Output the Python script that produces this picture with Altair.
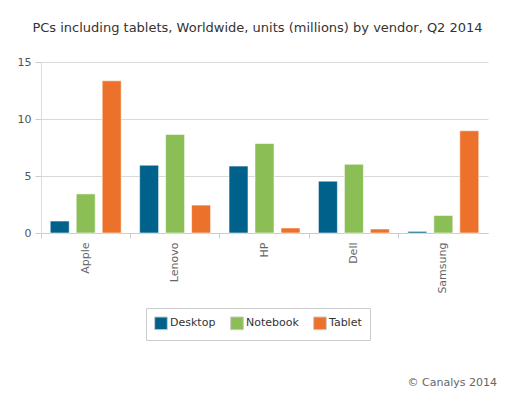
import altair as alt
import pandas as pd

vendors = ["Apple", "Lenovo", "HP", "Dell", "Samsung"]
types = ["Desktop", "Notebook", "Tablet"]
desktop = [1.05, 5.95, 5.87, 4.55, 0.14]
notebook = [3.43, 8.65, 7.85, 6.03, 1.54]
tablet = [13.35, 2.45, 0.44, 0.35, 8.97]
colors = ["#00628b", "#8bbe55", "#ec712a"]

rows = []
for i, v in enumerate(vendors):
    for t, vals in zip(types, [desktop, notebook, tablet]):
        rows.append({"vendor": v, "type": t, "units": vals[i]})
df = pd.DataFrame(rows)

FONT = "DejaVu Sans"

bars = alt.Chart(df).mark_bar(stroke="#ffffff", strokeOpacity=0.55, strokeWidth=1).encode(
    x=alt.X("vendor:N", sort=vendors, title=None,
            scale=alt.Scale(paddingInner=0, paddingOuter=0),
            axis=alt.Axis(labelAngle=-90, bandPosition=0, tickSize=5, labelPadding=4,
                          domainColor="#cccccc", tickColor="#cccccc", grid=False,
                          labelColor="#666666", labelFontSize=11, labelFont=FONT)),
    xOffset=alt.XOffset("type:N", sort=types,
                        scale=alt.Scale(paddingInner=0.27, paddingOuter=0.355)),
    y=alt.Y("units:Q", title=None,
            scale=alt.Scale(domain=[0, 15], nice=False),
            axis=alt.Axis(values=[0, 5, 10, 15], tickSize=6, labelPadding=4,
                          domainColor="#dddddd", tickColor="#cccccc",
                          gridColor="#d9d9d9", labelColor="#555555",
                          labelFontSize=11, labelFont=FONT)),
    color=alt.Color("type:N", sort=types,
                    scale=alt.Scale(domain=types, range=colors),
                    legend=alt.Legend(title=None, orient="none", legendX=105, legendY=246,
                                      direction="horizontal", strokeColor="#cccccc",
                                      padding=8, symbolType="square", symbolSize=160,
                                      symbolStrokeColor="#c8c8c8", symbolStrokeWidth=1,
                                      labelFontSize=11, labelColor="#333333", labelFont=FONT,
                                      labelOffset=2, columnPadding=12)),
)

credit = alt.Chart(pd.DataFrame({"t": ["© Canalys 2014"]})).mark_text(
    align="right", baseline="alphabetic", fontSize=11, color="#666666", font=FONT
).encode(text="t:N", x=alt.value(456), y=alt.value(324))

chart = alt.layer(bars, credit).properties(
    width=447, height=171,
    title=alt.TitleParams("PCs including tablets, Worldwide, units (millions) by vendor, Q2 2014",
                          fontSize=13, font=FONT, fontWeight="normal", color="#333333",
                          offset=21, dx=-7),
    autosize=alt.AutoSizeParams(type="none"),
    padding={"left": 41, "top": 62, "right": 26, "bottom": 169},
).configure_view(stroke=None)

chart.save("out.html", embed_options={"renderer": "svg", "actions": False})
